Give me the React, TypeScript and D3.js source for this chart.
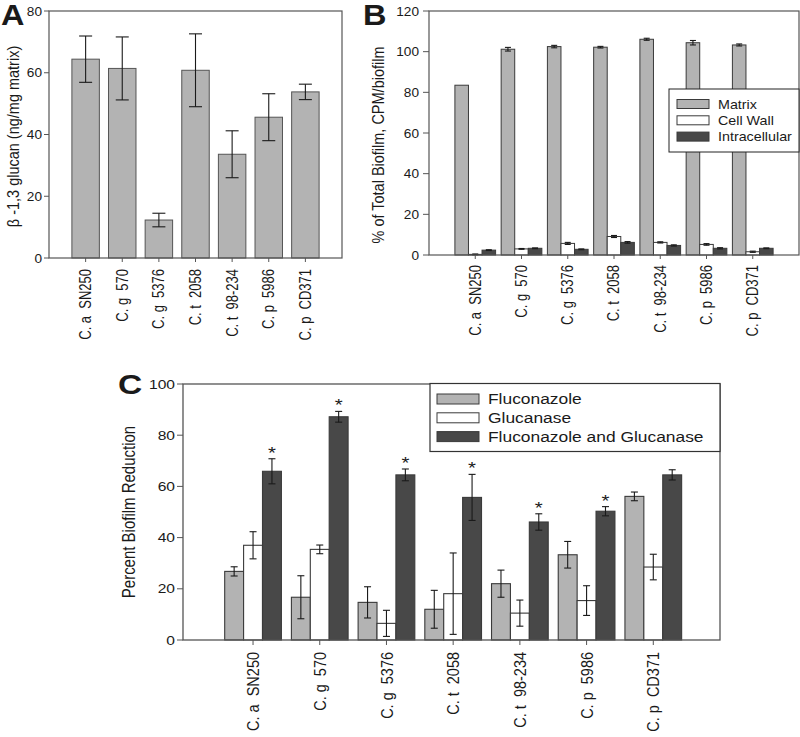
import React from "react";
import * as d3 from "d3";

const categories = ["C. a  SN250", "C. g  570", "C. g  5376", "C. t  2058", "C. t  98-234", "C. p  5986", "C. p  CD371"];

// Panel A
const glucanMean = [64.4, 61.4, 12.3, 60.8, 33.6, 45.6, 53.8];
const glucanErr = [7.5, 10.2, 2.2, 11.8, 7.6, 7.6, 2.5];
const ticksA = [0, 20, 40, 60, 80];

// Panel B
const seriesB = ["Matrix", "Cell Wall", "Intracellular"];
const matrixVals = [83.5, 101.2, 102.5, 102.2, 106.1, 104.4, 103.3];
const matrixErr = [0, 0.9, 0.6, 0.4, 0.5, 1.1, 0.5];
const cellWallVals = [0.3, 3.0, 5.7, 9.1, 6.2, 5.2, 1.6];
const cellWallErr = [0.2, 0.2, 0.5, 0.5, 0.3, 0.4, 0.3];
const intraVals = [2.4, 3.3, 2.8, 6.2, 4.7, 3.3, 3.3];
const intraErr = [0.2, 0.2, 0.2, 0.4, 0.3, 0.3, 0.2];
const ticksB = [0, 20, 40, 60, 80, 100, 120];

// Panel C
const seriesC = ["Fluconazole", "Glucanase", "Fluconazole and Glucanase"];
const flucVals = [26.8, 16.7, 14.7, 12.0, 22.0, 33.3, 56.1];
const flucErr = [1.8, 8.4, 6.1, 7.4, 5.3, 5.2, 1.7];
const glucVals = [37.0, 35.4, 6.5, 18.1, 10.5, 15.4, 28.5];
const glucErr = [5.3, 1.7, 5.1, 15.9, 5.1, 5.8, 5.0];
const comboVals = [65.9, 87.2, 64.5, 55.7, 46.1, 50.3, 64.5];
const comboErr = [4.9, 2.1, 2.3, 9.0, 3.2, 1.8, 2.0];
const significant = [true, true, true, true, true, true, false];
const ticksC = [0, 20, 40, 60, 80, 100];

const FONT = "'Liberation Sans', Arial, Helvetica, sans-serif";
const LIGHT = "#b3b3b3";
const DARK = "#484848";
const WHITE = "#ffffff";
const FILLS = [LIGHT, WHITE, DARK];
const FRAME = "#555";
const BAR_STROKE = "#3a3a3a";
const ERR = "#1a1a1a";

function ErrBar({ x, y0, y1, cap }: { x: number; y0: number; y1: number; cap: number }) {
  return (
    <g stroke={ERR} strokeWidth={1.1}>
      <line x1={x} x2={x} y1={y0} y2={y1} />
      <line x1={x - cap / 2} x2={x + cap / 2} y1={y0} y2={y0} />
      <line x1={x - cap / 2} x2={x + cap / 2} y1={y1} y2={y1} />
    </g>
  );
}

function SText({ x, y, children, size, anchor = "start", rotate = 0, bold = false, dy = "0.35em", sx = 1.2 }: any) {
  return (
    <text transform={`translate(${x},${y}) scale(${sx},1) rotate(${rotate})`} dy={dy} textAnchor={anchor} fontSize={size} fontWeight={bold ? "bold" : "normal"} fontFamily={FONT} fill="#1a1a1a" style={{ whiteSpace: "pre" }}>{children}</text>
  );
}

function PanelA() {
  const L = 49, R = 342, T = 11, B = 258;
  const x = d3.scaleLinear().domain([0, 8]).range([L, R]);
  const y = d3.scaleLinear().domain([0, 80]).range([B, T]);
  const step = x(1) - x(0);
  const bw = step * 0.75;
  return (
    <g>
      <SText x={1} y={25} size={29} bold dy="0" sx={1.12}>A</SText>
      {glucanMean.map((v, i) => (
        <rect key={i} x={x(i + 1) - bw / 2} y={y(v)} width={bw} height={B - y(v)} fill={LIGHT} stroke={"#555"} strokeWidth={1} />
      ))}
      {glucanMean.map((v, i) => (
        <ErrBar key={i} x={x(i + 1)} y0={y(v + glucanErr[i])} y1={y(v - glucanErr[i])} cap={13} />
      ))}
      <rect x={L} y={T} width={R - L} height={B - T} fill="none" stroke={FRAME} strokeWidth={1.2} />
      {ticksA.map((t) => (
        <g key={t}>
          <line x1={L - 5} x2={L} y1={y(t)} y2={y(t)} stroke={FRAME} />
          <SText x={L - 7} y={y(t)} size={13} anchor="end" sx={1.05}>{t}</SText>
        </g>
      ))}
      {categories.map((c, i) => (
        <g key={c}>
          <line x1={x(i + 1)} x2={x(i + 1)} y1={B} y2={B + 4} stroke={FRAME} />
          <SText x={x(i + 1)} y={B + 11} size={13} anchor="end" rotate={-90}>{c}</SText>
        </g>
      ))}
      <SText x={13} y={(T + B) / 2 + 2} size={14.5} anchor="middle" rotate={-90}>β -1,3 glucan (ng/mg matrix)</SText>
    </g>
  );
}

function PanelB() {
  const L = 429, R = 799, T = 11, B = 255;
  const x = d3.scaleLinear().domain([0, 8]).range([L, R]);
  const y = d3.scaleLinear().domain([0, 120]).range([B, T]);
  const step = x(1) - x(0);
  const gw = step * 0.88;
  const inner = d3.scaleBand().domain(seriesB).range([-gw / 2, gw / 2]).padding(0);
  const vals = [matrixVals, cellWallVals, intraVals];
  const errs = [matrixErr, cellWallErr, intraErr];
  const lx = 669, ly = 89, lw = 130, lh = 63;
  return (
    <g>
      <SText x={363} y={25} size={29} bold dy="0" sx={1.12}>B</SText>
      {seriesB.map((s, si) =>
        vals[si].map((v, i) => (
          <rect key={s + i} x={x(i + 1) + (inner(s) as number)} y={y(v)} width={inner.bandwidth()} height={B - y(v)} fill={FILLS[si]} stroke={BAR_STROKE} strokeWidth={1} />
        ))
      )}
      {seriesB.map((s, si) =>
        vals[si].map((v, i) =>
          errs[si][i] > 0 ? (
            <ErrBar key={s + i} x={x(i + 1) + (inner(s) as number) + inner.bandwidth() / 2} y0={y(v + errs[si][i])} y1={y(v - errs[si][i])} cap={6} />
          ) : null
        )
      )}
      <rect x={L} y={T} width={R - L} height={B - T} fill="none" stroke={FRAME} strokeWidth={1.2} />
      {ticksB.map((t) => (
        <g key={t}>
          <line x1={L - 6} x2={L} y1={y(t)} y2={y(t)} stroke={FRAME} />
          <SText x={L - 10} y={y(t)} size={13} anchor="end" sx={1.05}>{t}</SText>
        </g>
      ))}
      {categories.map((c, i) => (
        <g key={c}>
          <line x1={x(i + 1)} x2={x(i + 1)} y1={B} y2={B + 4} stroke={FRAME} />
          <SText x={x(i + 1)} y={B + 10} size={13} anchor="end" rotate={-90}>{c}</SText>
        </g>
      ))}
      <SText x={378} y={(T + B) / 2 + 12} size={14.5} anchor="middle" rotate={-90}>% of Total Biofilm, CPM/biofilm</SText>
      <rect x={lx} y={ly} width={lw} height={lh} fill="#fff" stroke="#222" strokeWidth={1} />
      {seriesB.map((s, si) => (
        <g key={s}>
          <rect x={677} y={ly + 15 + si * 16.3 - 4.5} width={32} height={9} fill={FILLS[si]} stroke={BAR_STROKE} />
          <SText x={718} y={ly + 15 + si * 16.3} size={13} sx={1.1}>{s}</SText>
        </g>
      ))}
    </g>
  );
}

function PanelC() {
  const L = 183, R = 720, T = 384, B = 640;
  const x = d3.scaleLinear().domain([-0.05, 8]).range([L, R]);
  const y = d3.scaleLinear().domain([0, 100]).range([B, T]);
  const step = x(1) - x(0);
  const gw = step * 0.85;
  const inner = d3.scaleBand().domain(seriesC).range([-gw / 2, gw / 2]).padding(0);
  const vals = [flucVals, glucVals, comboVals];
  const errs = [flucErr, glucErr, comboErr];
  const lx = 430, ly = 383.5, lw = 290, lh = 68;
  return (
    <g>
      <SText x={118} y={394} size={28} bold dy="0">C</SText>
      {seriesC.map((s, si) =>
        vals[si].map((v, i) => (
          <rect key={s + i} x={x(i + 1) + (inner(s) as number)} y={y(v)} width={inner.bandwidth()} height={B - y(v)} fill={FILLS[si]} stroke={BAR_STROKE} strokeWidth={1.1} />
        ))
      )}
      {seriesC.map((s, si) =>
        vals[si].map((v, i) => (
          <ErrBar key={s + i} x={x(i + 1) + (inner(s) as number) + inner.bandwidth() / 2} y0={y(v + errs[si][i])} y1={y(v - errs[si][i])} cap={7} />
        ))
      )}
      {comboVals.map((v, i) =>
        significant[i] ? (
          <SText key={i} x={x(i + 1) + (inner(seriesC[2]) as number) + inner.bandwidth() / 2} y={y(v + comboErr[i]) - 6} size={17} anchor="middle" dy="0.35em">*</SText>
        ) : null
      )}
      <rect x={L} y={T} width={R - L} height={B - T} fill="none" stroke={FRAME} strokeWidth={1.3} />
      {ticksC.map((t) => (
        <g key={t}>
          <line x1={L - 6} x2={L} y1={y(t)} y2={y(t)} stroke={FRAME} />
          <SText x={L - 8} y={y(t)} size={13} anchor="end">{t}</SText>
        </g>
      ))}
      {categories.map((c, i) => (
        <g key={c}>
          <line x1={x(i + 1)} x2={x(i + 1)} y1={B} y2={B + 5} stroke={FRAME} />
          <SText x={x(i + 1)} y={B + 12} size={14.5} anchor="end" rotate={-90}>{c}</SText>
        </g>
      ))}
      <SText x={129} y={(T + B) / 2} size={15} anchor="middle" rotate={-90}>Percent Biofilm Reduction</SText>
      <rect x={lx} y={ly} width={lw} height={lh} fill="#fff" stroke="#333" strokeWidth={1.2} />
      {seriesC.map((s, si) => (
        <g key={s}>
          <rect x={437} y={ly + 15.5 + si * 18.8 - 5} width={42} height={10} fill={FILLS[si]} stroke={BAR_STROKE} />
          <SText x={488} y={ly + 15.5 + si * 18.8} size={14.5}>{s}</SText>
        </g>
      ))}
    </g>
  );
}

export default function App() {
  return (
    <svg width={800} height={737} viewBox="0 0 800 737" style={{ position: "absolute", left: 0, top: 0, background: "#fff" }}>
      <rect width={800} height={737} fill="#fff" />
      <PanelA />
      <PanelB />
      <PanelC />
    </svg>
  );
}
